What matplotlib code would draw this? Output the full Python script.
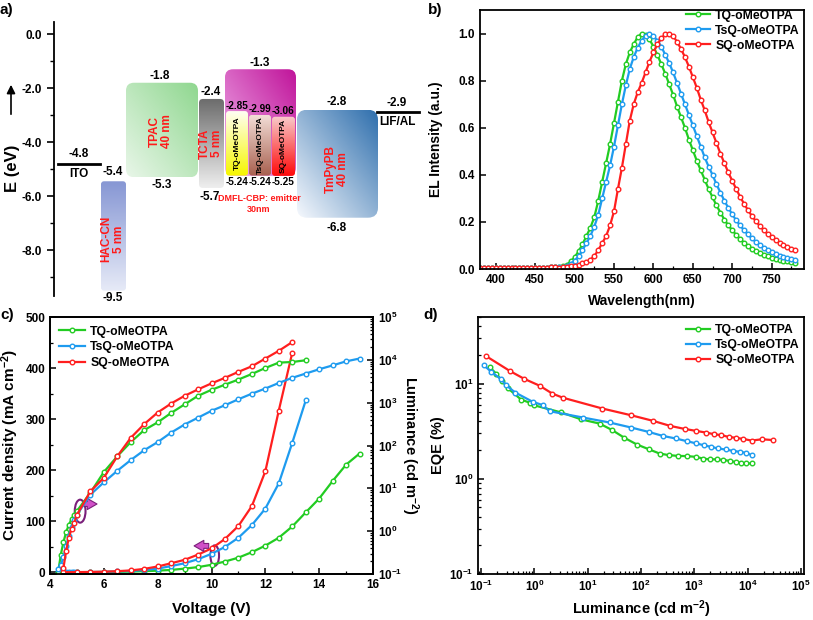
import matplotlib
matplotlib.use('Agg')
import matplotlib.pyplot as plt
import numpy as np
from matplotlib.patches import FancyBboxPatch, Ellipse
from matplotlib.colors import LinearSegmentedColormap
from matplotlib.ticker import LogLocator, NullFormatter, MultipleLocator

plt.rcParams['font.family'] = ['Liberation Sans', 'DejaVu Sans']
plt.rcParams['font.weight'] = 'bold'
plt.rcParams['axes.labelweight'] = 'bold'
plt.rcParams['axes.unicode_minus'] = False
plt.rcParams['mathtext.fontset'] = 'custom'
plt.rcParams['mathtext.rm'] = 'Liberation Sans:bold'
plt.rcParams['mathtext.it'] = 'Liberation Sans:bold'
plt.rcParams['mathtext.bf'] = 'Liberation Sans:bold'

# ---------------- data ----------------
names = ['TQ-oMeOTPA', 'TsQ-oMeOTPA', 'SQ-oMeOTPA']
cols = ['#22cc22', '#1e9bef', '#ff1f1f']

# a) energy levels (eV)
ito_level = -4.8
lif_level = -2.9
hac_lumo, hac_homo = -5.4, -9.5
tpac_lumo, tpac_homo = -1.8, -5.3
tcta_lumo, tcta_homo = -2.4, -5.7
host_lumo, host_homo = -1.3, -5.25
emit_lumo = [-2.85, -2.99, -3.06]
emit_homo = [-5.24, -5.24, -5.25]
tmpypb_lumo, tmpypb_homo = -2.8, -6.8

# b) EL spectra, 380-780 nm every 5 nm
wl = np.arange(380, 781, 5)
base = [0.003, 0.003, 0.003, 0.003, 0.003, 0.003, 0.003, 0.004, 0.004, 0.004,
        0.004, 0.004, 0.005, 0.005, 0.005, 0.005, 0.006, 0.006, 0.007, 0.008]
el_tq = base + [0.009, 0.012, 0.018, 0.032,
                0.05, 0.075, 0.105, 0.14, 0.175, 0.22, 0.29, 0.37, 0.45, 0.53,
                0.62, 0.71, 0.80, 0.87, 0.92, 0.955, 0.985, 1.0,
                0.995, 0.975, 0.945, 0.91, 0.87, 0.83, 0.785, 0.74, 0.69, 0.645,
                0.60, 0.55, 0.505, 0.46, 0.42, 0.38, 0.34, 0.305, 0.27, 0.24,
                0.21, 0.185, 0.165, 0.145, 0.127, 0.112, 0.098, 0.087, 0.077, 0.068,
                0.061, 0.054, 0.048, 0.043, 0.039, 0.035, 0.032, 0.029, 0.027]
el_tsq = base + [0.008, 0.01, 0.014, 0.022,
                 0.035, 0.055, 0.08, 0.11, 0.14, 0.18, 0.23, 0.30, 0.37, 0.44,
                 0.52, 0.61, 0.70, 0.78, 0.85, 0.90, 0.94, 0.97, 0.99,
                 1.0, 0.99, 0.97, 0.945, 0.91, 0.875, 0.835, 0.79, 0.745, 0.70,
                 0.655, 0.61, 0.565, 0.52, 0.475, 0.435, 0.40, 0.36, 0.325, 0.29,
                 0.26, 0.232, 0.207, 0.185, 0.165, 0.147, 0.13, 0.115, 0.102, 0.09,
                 0.08, 0.071, 0.063, 0.056, 0.05, 0.045, 0.041, 0.038]
el_sq = base + [0.006, 0.007, 0.009, 0.011,
                0.013, 0.018, 0.025, 0.03, 0.04, 0.055, 0.08, 0.11, 0.14, 0.185,
                0.245, 0.34, 0.43, 0.53, 0.63, 0.70, 0.75, 0.79, 0.835, 0.88,
                0.92, 0.955, 0.98, 0.997, 1.0,
                0.99, 0.965, 0.935, 0.90, 0.86, 0.815, 0.77, 0.72, 0.675, 0.625,
                0.58, 0.535, 0.49, 0.45, 0.41, 0.375, 0.34, 0.307, 0.277, 0.25,
                0.225, 0.203, 0.183, 0.165, 0.149, 0.135, 0.122, 0.111, 0.101, 0.093,
                0.086, 0.08]

# c) J-V-L
v_tq_j = [4.5, 5.0, 5.5, 6.0, 6.5, 7.0, 7.5, 8.0, 8.5, 9.0, 9.5, 10.0, 10.5, 11.0,
          11.5, 12.0, 12.5, 13.0, 13.5, 14.0, 14.5, 15.0, 15.5]
j_tq = [0.3, 0.5, 0.7, 0.9, 1.2, 1.7, 2.5, 3.5, 5, 7.5, 10.5, 15, 21.4, 29,
        39.7, 52.5, 68, 90, 117.5, 144.7, 179, 211, 232.8]
v_tsq_j = [4.3, 4.4, 4.5, 4.6, 4.7, 4.8, 4.9, 5.0, 5.5, 6.0, 6.5, 7.0, 7.5, 8.0, 8.5,
           9.0, 9.5, 10.0, 10.5, 11.0, 11.5, 12.0, 12.5, 13.0, 13.5]
j_tsq = [0.5, 0.5, 0.5, 0.5, 0.5, 0.5, 0.6, 0.6, 0.8, 1.2, 2, 3, 4.8, 7.5, 12.5,
         18, 26, 36.4, 50, 68, 92.8, 125, 174.5, 253.7, 336.6]
v_sq_j = [4.5, 5.0, 5.5, 6.0, 6.5, 7.0, 7.5, 8.0, 8.5, 9.0, 9.5, 10.0, 10.5, 11.0,
          11.5, 12.0, 12.5, 13.0]
j_sq = [0.5, 0.7, 1, 1.5, 2.5, 4, 7, 11.7, 18, 24.7, 35, 47, 65.6, 91,
        130, 198, 317, 430]

v_tq_l = [4.3, 4.4, 4.5, 4.6, 4.7, 4.8, 4.9, 5.0, 5.5, 6.0, 6.5, 7.0, 7.5, 8.0, 8.5,
          9.0, 9.5, 10.0, 10.5, 11.0, 11.5, 12.0, 12.5, 13.0, 13.5]
l_tq = [0.107, 0.28, 0.56, 0.95, 1.41, 1.9, 2.4, 2.95, 7.9, 24, 56, 120, 229, 347, 575,
        912, 1445, 1995, 2630, 3467, 4677, 6457, 8610, 8913, 9772]
v_tsq_l = [4.3, 4.4, 4.5, 4.6, 4.7, 4.8, 4.9, 5.0, 5.5, 6.0, 6.5, 7.0, 7.5, 8.0, 8.5,
           9.0, 9.5, 10.0, 10.5, 11.0, 11.5, 12.0, 12.5, 13.0, 13.5, 14.0, 14.5,
           15.0, 15.5]
l_tsq = [0.13, 0.16, 0.25, 0.45, 0.79, 1.26, 1.78, 2.4, 7.1, 13.8, 25.7, 45.7, 77.6,
         120, 200, 309, 447, 646, 871, 1202, 1622, 2138, 2884, 3802, 4786, 6026,
         7413, 9226, 10715]
v_sq_l = [4.5, 4.6, 4.7, 4.8, 4.9, 5.0, 5.5, 6.0, 6.5, 7.0, 7.5, 8.0, 8.5, 9.0, 9.5,
          10.0, 10.5, 11.0, 11.5, 12.0, 12.5, 13.0]
l_sq = [0.14, 0.35, 0.71, 1.12, 1.58, 2.4, 8.5, 17.6, 56, 151, 316, 589, 955, 1445,
        2042, 2818, 3802, 5248, 7079, 10715, 16218, 26000]

# d) EQE vs luminance
lum_tq = [0.144, 0.19, 0.25, 0.32, 0.56, 0.81, 1.0, 3.2, 7.6, 16.7, 29, 49, 84, 141,
          224, 336, 495, 733, 1070, 1460, 1950, 2630, 3470, 4650, 6030, 7700, 9550, 12300]
eqe_tq = [15, 12.7, 10.6, 8.9, 6.8, 6.3, 5.9, 4.97, 4.2, 3.8, 3.24, 2.69, 2.29, 2.04,
          1.84, 1.77, 1.74, 1.73, 1.70, 1.63, 1.60, 1.60, 1.58, 1.54, 1.50, 1.47, 1.45, 1.45]
lum_tsq = [0.112, 0.154, 0.238, 0.295, 0.436, 0.93, 1.44, 1.92, 8.1, 25.7, 66, 141,
           257, 447, 733, 1096, 1510, 2100, 2800, 3900, 5370, 7160, 9550, 11900]
eqe_tsq = [15.6, 13.3, 11.1, 9.6, 8.05, 6.43, 5.93, 5.13, 4.4, 3.9, 3.45, 3.1,
           2.82, 2.65, 2.48, 2.35, 2.25, 2.16, 2.08, 2.03, 1.96, 1.92, 1.87, 1.77]
lum_sq = [0.124, 0.35, 0.645, 1.25, 2.16, 3.42, 18.8, 66, 168, 355, 660, 1096, 1644,
          2350, 3230, 4470, 6170, 8300, 11900, 18800, 30000]
eqe_sq = [19.4, 13.5, 11.2, 9.5, 7.85, 7.1, 5.47, 4.64, 4.06, 3.59, 3.34, 3.18, 3.06,
          2.94, 2.87, 2.75, 2.69, 2.62, 2.52, 2.6, 2.55]

# ---------------- figure ----------------
fig = plt.figure(figsize=(8.13, 6.2), dpi=100)


def grad_box(ax, x0, x1, top, bot, c_lo, c_hi, r, mode='v'):
    box = FancyBboxPatch((x0, bot), x1 - x0, top - bot,
                         boxstyle='round,pad=0,rounding_size=%g' % r,
                         mutation_aspect=1 / 27., fc='none', ec='none')
    ax.add_patch(box)
    gx, gy = np.meshgrid(np.linspace(0, 1, 60), np.linspace(0, 1, 60))
    if mode == 'v':
        g = gy
    elif mode == 'h':
        g = gx
    else:
        g = 0.5 * (gx + gy)
    cm = LinearSegmentedColormap.from_list('g', [c_lo, c_hi])
    im = ax.imshow(g, extent=(x0, x1, bot, top), origin='lower', cmap=cm,
                   aspect='auto', interpolation='bilinear')
    im.set_clip_path(box)


def lvl_txt(ax, x, y, s, above=True, size=8.5, color='k'):
    if above:
        ax.text(x, y + 0.02, s, ha='center', va='bottom', fontsize=size, color=color)
    else:
        ax.text(x, y - 0.05, s, ha='center', va='top', fontsize=size, color=color,
                clip_on=False)


# ---- a) ----
ax = fig.add_axes([0.0664, 0.5226, 0.4502, 0.4419])
ax.set_xlim(54, 420)
ax.set_ylim(-9.7, 0.45)
for s in ['top', 'right', 'bottom']:
    ax.spines[s].set_visible(False)
ax.spines['left'].set_linewidth(1.3)
ax.set_xticks([])
ax.set_yticks([0, -2, -4, -6, -8])
ax.set_yticklabels(['0.0', '-2.0', '-4.0', '-6.0', '-8.0'])
ax.set_yticks([-1, -3, -5, -7, -9], minor=True)
ax.tick_params(axis='y', direction='out', length=5, width=1.2, labelsize=8.5)
ax.tick_params(axis='y', which='minor', length=3, width=1)

grad_box(ax, 101, 126, hac_lumo - 0.05, hac_homo, '#e6eaf7', '#8797d4', 3)
grad_box(ax, 126, 198, tpac_lumo, tpac_homo, '#e8f6e8', '#8fd78f', 8, 'd')
grad_box(ax, 199, 224, tcta_lumo, tcta_homo, '#eeeeee', '#6c6c6c', 4)
grad_box(ax, 225, 296, host_lumo, host_homo, '#f2b6ee', '#c0149a', 8, 'd')
ex = [(226, 248), (249, 271), (272, 295)]
ecl = [('#f6f600', '#fffff2'), ('#a8604f', '#f2ddd6'), ('#ff0a0a', '#f8caca')]
for (x0, x1), top, bot, (c0, c1) in zip(ex, emit_lumo, emit_homo, ecl):
    grad_box(ax, x0, x1, top, bot, c0, c1, 3)
grad_box(ax, 297, 378, tmpypb_lumo, tmpypb_homo, '#f5f8fd', '#2f6fad', 10, 'd')

ax.plot([58, 100], [ito_level, ito_level], color='k', lw=2)
ax.plot([377, 419], [lif_level, lif_level], color='k', lw=2, clip_on=False)

lvl_txt(ax, 79, ito_level + 0.1, '%.1f' % ito_level)
lvl_txt(ax, 79, ito_level - 0.1, 'ITO', above=False)
lvl_txt(ax, 113, hac_lumo + 0.05, '%.1f' % hac_lumo)
lvl_txt(ax, 113, hac_homo, '%.1f' % hac_homo, above=False)
lvl_txt(ax, 160, tpac_lumo, '%.1f' % tpac_lumo)
lvl_txt(ax, 162, tpac_homo, '%.1f' % tpac_homo, above=False)
lvl_txt(ax, 211, tcta_lumo, '%.1f' % tcta_lumo)
lvl_txt(ax, 210, tcta_homo - 0.05, '%.1f' % tcta_homo, above=False)
lvl_txt(ax, 260, host_lumo, '%.1f' % host_lumo)
for (x0, x1), top, bot in zip(ex, emit_lumo, emit_homo):
    lvl_txt(ax, (x0 + x1) / 2, top, '%.2f' % top, size=7.2)
    lvl_txt(ax, (x0 + x1) / 2, bot, '%.2f' % bot, above=False, size=7.2)
lvl_txt(ax, 337, tmpypb_lumo + 0.05, '%.1f' % tmpypb_lumo)
lvl_txt(ax, 337, tmpypb_homo - 0.1, '%.1f' % tmpypb_homo, above=False)
lvl_txt(ax, 397, lif_level + 0.1, '%.1f' % lif_level)
lvl_txt(ax, 397, lif_level - 0.1, 'LIF/AL', above=False)

red = '#ff1a1a'
ax.text(113, -7.6, 'HAC-CN\n5 nm', rotation=90, ha='center', va='center',
        fontsize=8.5, color=red, linespacing=1.1)
ax.text(161, -3.6, 'TPAC\n40 nm', rotation=90, ha='center', va='center',
        fontsize=8.5, color=red, linespacing=1.1)
ax.text(211, -4.05, 'TCTA\n5 nm', rotation=90, ha='center', va='center',
        fontsize=8.5, color=red, linespacing=1.1)
ax.text(337, -5.0, 'TmPyPB\n40 nm', rotation=90, ha='center', va='center',
        fontsize=8.5, color=red, linespacing=1.1)
for (x0, x1), top, bot, nm in zip(ex, emit_lumo, emit_homo, names):
    ax.text((x0 + x1) / 2, (top + bot) / 2, nm, rotation=90, ha='center',
            va='center', fontsize=6)
ax.text(259, -6.3, 'DMFL-CBP: emitter\n30nm', ha='center', va='center',
        fontsize=6.5, color=red, linespacing=1.25)

fig.text(12 / 813, 1 - 168 / 620, 'E (eV)', rotation=90, ha='center', va='center',
         fontsize=12)
fig.patches.append(matplotlib.patches.FancyArrowPatch(
    (11 / 813, 1 - 117 / 620), (11 / 813, 1 - 82 / 620), transform=fig.transFigure,
    arrowstyle='-|>,head_width=2.5,head_length=5', color='k', lw=1.2))

# ---- b) ----
axb = fig.add_axes([0.5904, 0.5661, 0.3985, 0.4177])
for y, c, n in zip([el_tq, el_tsq, el_sq], cols, names):
    axb.plot(wl, y, '-o', color=c, lw=1.6, ms=3.3, mfc='white', mew=1, label=n)
axb.set_xlim(380, 791)
axb.set_ylim(0, 1.1)
axb.set_xticks([400, 450, 500, 550, 600, 650, 700, 750])
axb.xaxis.set_minor_locator(MultipleLocator(25))
axb.set_yticks([0, 0.2, 0.4, 0.6, 0.8, 1.0])
axb.set_xlabel('Wavelength(nm)', fontsize=10, labelpad=6)
axb.set_ylabel('EL Intensity (a.u.)', fontsize=10, labelpad=11)
axb.legend(loc='upper right', bbox_to_anchor=(1.01, 1.03), frameon=False, fontsize=8.8,
           handlelength=2.0, handletextpad=0.4, labelspacing=0.25, borderaxespad=0.2)

# ---- c) ----
axc = fig.add_axes([0.0615, 0.0742, 0.3973, 0.4145])
axl = axc.twinx()
for v, j, c, n in zip([v_tq_j, v_tsq_j, v_sq_j], [j_tq, j_tsq, j_sq], cols, names):
    axc.plot(v, j, '-o', color=c, lw=1.6, ms=3.3, mfc='white', mew=1, label=n)
for v, l, c in zip([v_tq_l, v_tsq_l, v_sq_l], [l_tq, l_tsq, l_sq], cols):
    axl.plot(v, l, '-o', color=c, lw=1.6, ms=3.3, mfc='white', mew=1)
axc.set_xlim(4, 16)
axc.set_ylim(-3, 500)
axl.set_yscale('log')
axl.set_ylim(0.1, 1e5)
axc.xaxis.set_major_locator(MultipleLocator(2))
axc.xaxis.set_minor_locator(MultipleLocator(1))
axc.yaxis.set_major_locator(MultipleLocator(100))
axc.yaxis.set_minor_locator(MultipleLocator(50))
axl.yaxis.set_major_locator(LogLocator(base=10, numticks=10))
axl.yaxis.set_minor_locator(LogLocator(base=10, subs=np.arange(2, 10), numticks=10))
axl.yaxis.set_minor_formatter(NullFormatter())
axc.set_xlabel('Voltage (V)', fontsize=11, labelpad=8)
axc.set_ylabel('Current density (mA cm$^{-2}$)', fontsize=11, labelpad=3)
axl.set_ylabel('Luminance (cd m$^{-2}$)', fontsize=10.5, rotation=270, labelpad=13)
axc.legend(loc='upper left', frameon=False, fontsize=8.8, handlelength=2.2,
           handletextpad=0.4, labelspacing=0.3, borderaxespad=0.3)
pur = '#7a1f7a'
axc.add_patch(Ellipse((5.12, 120), 0.4, 45, fill=False, ec=pur, lw=1.5))
axc.annotate('', xy=(5.85, 134), xytext=(5.15, 134),
             arrowprops=dict(arrowstyle='simple,head_width=0.8,head_length=0.7,tail_width=0.35',
                             fc='#d050c8', ec=pur, lw=0.8))
axc.add_patch(Ellipse((10.12, 33), 0.32, 40, fill=False, ec=pur, lw=1.5))
axc.annotate('', xy=(9.25, 52), xytext=(10.0, 52),
             arrowprops=dict(arrowstyle='simple,head_width=0.8,head_length=0.7,tail_width=0.35',
                             fc='#d050c8', ec=pur, lw=0.8))

# ---- d) ----
axd = fig.add_axes([0.5879, 0.0742, 0.4010, 0.4145])
for x, y, c, n in zip([lum_tq, lum_tsq, lum_sq], [eqe_tq, eqe_tsq, eqe_sq], cols, names):
    axd.plot(x, y, '-o', color=c, lw=1.6, ms=3.3, mfc='white', mew=1, label=n)
axd.set_xscale('log')
axd.set_yscale('log')
axd.set_xlim(10 ** -1.06, 10 ** 5.06)
axd.set_ylim(0.1, 50)
axd.xaxis.set_major_locator(LogLocator(base=10, numticks=10))
axd.xaxis.set_minor_locator(LogLocator(base=10, subs=np.arange(2, 10), numticks=10))
axd.xaxis.set_minor_formatter(NullFormatter())
axd.yaxis.set_major_locator(LogLocator(base=10, numticks=10))
axd.yaxis.set_minor_locator(LogLocator(base=10, subs=np.arange(2, 10), numticks=10))
axd.yaxis.set_minor_formatter(NullFormatter())
axd.set_xlabel('Luminance (cd m$^{-2}$)', fontsize=10.5, labelpad=3)
axd.set_ylabel('EQE (%)', fontsize=10.5, labelpad=3)
axd.legend(loc='upper right', bbox_to_anchor=(1.01, 1.0), frameon=False, fontsize=8.8,
           handlelength=2.0, handletextpad=0.4, labelspacing=0.25, borderaxespad=0.2)

for a in [axb, axc, axd]:
    for s in a.spines.values():
        s.set_linewidth(1.3)
    a.tick_params(which='major', direction='in', length=4, width=1.1, labelsize=8.5)
    a.tick_params(which='minor', direction='in', length=2.5, width=0.9)
for s in axl.spines.values():
    s.set_linewidth(1.3)
axl.tick_params(which='major', direction='in', length=4, width=1.1, labelsize=8.5, pad=3.5)
axl.tick_params(which='minor', direction='in', length=2.5, width=0.9)

fig.text(0.0, 1 - 10 / 620, 'a)', fontsize=11, va='center')
fig.text(428 / 813, 1 - 10 / 620, 'b)', fontsize=11, va='center')
fig.text(0.0, 1 - 315 / 620, 'c)', fontsize=11, va='center')
fig.text(423 / 813, 1 - 315 / 620, 'd)', fontsize=11, va='center')

fig.savefig('out.png', dpi=100)
